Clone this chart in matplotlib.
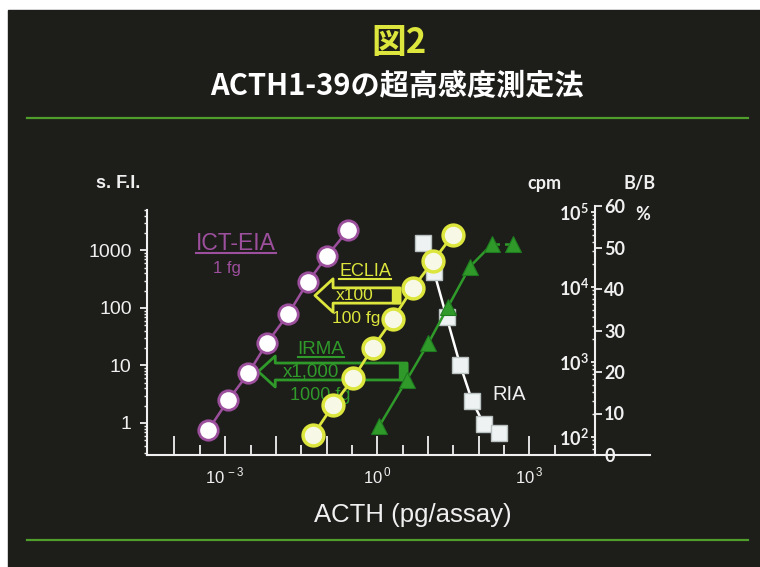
import numpy as np
import matplotlib
matplotlib.use("Agg")
import matplotlib.pyplot as plt
from matplotlib.lines import Line2D
from matplotlib.patches import Rectangle, FancyArrowPatch, ArrowStyle
from matplotlib.ticker import FixedLocator, FuncFormatter, LogLocator, NullFormatter

plt.rcParams['font.family'] = ['Liberation Sans', 'DejaVu Sans']
plt.rcParams['mathtext.fontset'] = 'custom'
plt.rcParams['mathtext.rm'] = 'Liberation Sans'
plt.rcParams['mathtext.bf'] = 'Lato:bold'

# ICT-EIA (s.F.I.)
eia_x = [4.65e-4, 1.15e-3, 2.86e-3, 6.76e-3, 0.0176, 0.0424, 0.103, 0.268]
eia_y = [0.76, 2.5, 7.3, 25, 79, 280, 813, 2275]
# ECLIA (s.F.I.)
eclia_x = [0.0547, 0.1355, 0.3365, 0.811, 2.01, 4.99, 12.7, 30.7]
eclia_y = [0.62, 2.06, 6.0, 20.4, 63.6, 220, 657, 1860]
# IRMA (cpm)
irma_x = [1.095, 3.80, 10.1, 24.5, 67.3, 185, 481]
irma_cpm = [140, 575, 1770, 5360, 18700, 37400, 37400]
# RIA (B/B0 %)
ria_x = [8.07, 13.1, 23.2, 42.8, 74.8, 127, 251]
ria_pct = [51.2, 44.2, 33.3, 21.8, 12.9, 7.4, 5.2]

sfi_ticks = [1, 10, 100, 1000]
pct_ticks = [0, 10, 20, 30, 40, 50, 60]

BG = '#1d1d1a'
PURPLE = '#9c4f9c'
YELLOW = '#dde63c'
GREEN = '#2f9a2a'
RULE = '#4f9e2c'
WHITE = '#f0f0f0'

W, H = 760, 567
fig = plt.figure(figsize=(W / 100, H / 100), dpi=100, facecolor='white')


def fx(x):
    return x / W


def fy(y):
    return 1 - y / H


def rect(x0, y0, x1, y1):
    # pixel box (top-left origin) -> figure fraction rect
    return [fx(x0), fy(y1), fx(x1) - fx(x0), fy(y0) - fy(y1)]


fig.patches.append(Rectangle((fx(8), 0), 1, fy(10), transform=fig.transFigure,
                             color=BG, zorder=-10))

# title
fig.text(fx(399), fy(42), '図2', color=YELLOW, fontsize=25, fontweight='bold',
         family=['Noto Sans CJK JP'], ha='center', va='center')
fig.text(fx(397), fy(86), 'ACTH1-39の超高感度測定法', color='white', fontsize=21,
         fontweight='bold', family=['Noto Sans CJK JP'], ha='center', va='center')
for yy in (118, 540):
    fig.add_artist(Line2D([fx(27), fx(748)], [fy(yy), fy(yy)], color=RULE, lw=1.6))

# main axes: s.F.I. vs ACTH
x_lo, x_hi = 10 ** -4.542, 10 ** 4.284
ax = fig.add_axes(rect(147, 210, 594.5, 455))
ax.set_xscale('log')
ax.set_yscale('log')
ax.set_xlim(x_lo, x_hi)
ax.set_ylim(10 ** -0.557, 10 ** 3.704)
ax.patch.set_visible(False)
for s in ('top', 'right'):
    ax.spines[s].set_visible(False)
for s in ('left', 'bottom'):
    ax.spines[s].set_color(WHITE)
    ax.spines[s].set_linewidth(1.5)

ax.xaxis.set_major_locator(FixedLocator(10.0 ** np.arange(-4, 4)))
ax.xaxis.set_minor_locator(FixedLocator(10.0 ** (np.arange(-4, 4) + 0.5)))
ax.xaxis.set_major_formatter(FuncFormatter(
    lambda v, p: r'$10^{\,%d}$' % round(np.log10(v)) if round(np.log10(v)) in (-3, 0, 3) else ''))
ax.xaxis.set_minor_formatter(NullFormatter())
ax.tick_params(axis='x', which='major', direction='in', length=14, width=1.3,
               colors=WHITE, labelsize=12, pad=8)
ax.tick_params(axis='x', which='minor', direction='in', length=7, width=1.3, colors=WHITE)

ax.yaxis.set_major_locator(FixedLocator(sfi_ticks))
ax.yaxis.set_major_formatter(FuncFormatter(lambda v, p: '%d' % v))
ax.yaxis.set_minor_locator(LogLocator(subs=np.arange(2, 10)))
ax.yaxis.set_minor_formatter(NullFormatter())
ax.tick_params(axis='y', which='major', direction='out', length=5, width=1.3,
               colors=WHITE, labelsize=14, pad=6)
ax.tick_params(axis='y', which='minor', direction='out', length=2.5, width=1, colors=WHITE)

# IRMA and RIA share the ACTH axis, on the right-hand scales
ax_irma = fig.add_axes(rect(147, 206, 594.5, 455), sharex=ax)
ax_irma.set_yscale('log')
ax_irma.set_ylim(10 ** 1.76, 10 ** 5.08)
ax_irma.axis('off')
ax_ria = fig.add_axes(rect(147, 206, 594.5, 455), sharex=ax)
ax_ria.set_ylim(0, 60)
ax_ria.axis('off')

ax_ria.set_zorder(1)
ax_irma.set_zorder(2)
ax.set_zorder(3)

ax_ria.plot(ria_x, ria_pct, '-s', color='white', lw=1.8, ms=11,
            mfc='#eef2f2', mec='#b8c0c0', mew=1)
ax_irma.plot(irma_x[:6], irma_cpm[:6], '-', color=GREEN, lw=1.8)
ax_irma.plot(irma_x[5:], irma_cpm[5:], '--', color=GREEN, lw=1.8, dashes=(3, 2))
ax_irma.plot(irma_x, irma_cpm, '^', color=GREEN, ms=12, mec='#1f7a1f', mew=0.8)
ax.plot(eia_x, eia_y, '-o', color=PURPLE, lw=1.8, ms=14, mfc='white', mec=PURPLE, mew=2)
ax.plot(eclia_x, eclia_y, '-o', color=YELLOW, lw=2, ms=15, mfc='#f7f9e6', mec=YELLOW, mew=2.5)

# right-hand scales: cpm (log) and B/B0 % (linear)
ax_cpm = fig.add_axes(rect(594.5, 206, 650, 455))
ax_cpm.patch.set_visible(False)
ax_cpm.set_yscale('log')
ax_cpm.set_ylim(10 ** 1.76, 10 ** 5.08)
ax_cpm.set_xticks([])
for s in ('top', 'right'):
    ax_cpm.spines[s].set_visible(False)
for s in ('left', 'bottom'):
    ax_cpm.spines[s].set_color(WHITE)
    ax_cpm.spines[s].set_linewidth(1.5)
ax_cpm.yaxis.set_major_locator(FixedLocator([1e2, 1e3, 1e4, 1e5]))
ax_cpm.yaxis.set_major_formatter(FuncFormatter(
    lambda v, p: r'$\mathbf{10^{%d}}$' % round(np.log10(v))))
ax_cpm.yaxis.set_minor_locator(LogLocator(subs=np.arange(2, 10)))
ax_cpm.yaxis.set_minor_formatter(NullFormatter())
ax_cpm.tick_params(axis='y', which='major', direction='out', length=3, width=1.3,
                   colors=WHITE, labelsize=13, pad=1)
ax_cpm.tick_params(axis='y', which='minor', direction='out', length=2.5, width=1, colors=WHITE)

ax_pct = ax_cpm.twinx()
ax_pct.set_ylim(0, 60)
for s in ('top', 'left', 'bottom', 'right'):
    ax_pct.spines[s].set_visible(False)
ax_pct.spines['right'].set_position(('axes', 0))
ax_pct.yaxis.set_major_locator(FixedLocator(pct_ticks))
ax_pct.tick_params(axis='y', direction='out', length=5, width=1.3, colors=WHITE,
                   labelsize=13, pad=2)
for lbl in ax_pct.get_yticklabels():
    lbl.set_family('Lato')
    lbl.set_weight('bold')

# axis titles
fig.text(fx(118), fy(183), 's. F.I.', color=WHITE, fontsize=13, fontweight='bold',
         ha='center', va='center')
fig.text(fx(544), fy(183), 'cpm', color=WHITE, fontsize=13, fontweight='bold',
         family='Lato', ha='center', va='center')
fig.text(fx(640), fy(183), 'B/B', color=WHITE, fontsize=13, fontweight='bold',
         family='Lato', ha='center', va='center')
fig.text(fx(643), fy(214), '%', color=WHITE, fontsize=13, fontweight='bold',
         family='Lato', ha='center', va='center')
fig.text(fx(413), fy(515), 'ACTH (pg/assay)', color=WHITE, fontsize=18.5,
         ha='center', va='center')
fig.text(fx(509), fy(394), 'RIA', color=WHITE, fontsize=14.5, ha='center', va='center')

# method labels and sensitivity arrows
heads = []
heads.append(fig.text(fx(236), fy(243), 'ICT-EIA', color=PURPLE, fontsize=16.5,
                      ha='center', va='center', zorder=0.5))
fig.text(fx(227), fy(269), '1 fg', color=PURPLE, fontsize=12, ha='center', va='center', zorder=0.5)
heads.append(fig.text(fx(365), fy(272), 'ECLIA', color=YELLOW, fontsize=13,
                      ha='center', va='center', zorder=0.5))
fig.text(fx(355), fy(296), 'x100', color=YELLOW, fontsize=12.5, ha='center', va='center', zorder=0.5)
fig.text(fx(356), fy(318), '100 fg', color=YELLOW, fontsize=12.5, ha='center', va='center', zorder=0.5)
heads.append(fig.text(fx(321), fy(350), 'IRMA', color=GREEN, fontsize=13.5,
                      ha='center', va='center', zorder=0.5))
fig.text(fx(311), fy(372), 'x1,000', color=GREEN, fontsize=13.5, ha='center', va='center', zorder=0.5)
fig.text(fx(320), fy(395), '1000 fg', color=GREEN, fontsize=13, ha='center', va='center', zorder=0.5)

for (x0, x1, yy, hl, hw, tw, col) in [(400, 315, 295.5, 13, 24, 11, YELLOW),
                                      (407, 258.3, 371.5, 12.2, 22.3, 12.2, GREEN)]:
    arr = FancyArrowPatch((fx(x0), fy(yy)), (fx(x1), fy(yy)), transform=fig.transFigure,
                          arrowstyle=ArrowStyle.Simple(head_length=hl, head_width=hw, tail_width=tw),
                          mutation_scale=1, shrinkA=0, shrinkB=0, fc='none', ec=col, lw=2,
                          zorder=0.5)
    fig.add_artist(arr)
    half = tw * 100 / 72 / 2
    fig.add_artist(Rectangle((fx(x0 - 8), fy(yy + half)), fx(8), fy(yy - half) - fy(yy + half),
                             transform=fig.transFigure, color=col, zorder=0.5))

fig.canvas.draw()
for t in heads:
    bb = t.get_window_extent().transformed(fig.transFigure.inverted())
    fig.add_artist(Line2D([bb.x0, bb.x1], [bb.y0 + 0.002, bb.y0 + 0.002],
                          color=t.get_color(), lw=1.5, zorder=0.5))

fig.savefig('out.png', dpi=100, facecolor=fig.get_facecolor())
